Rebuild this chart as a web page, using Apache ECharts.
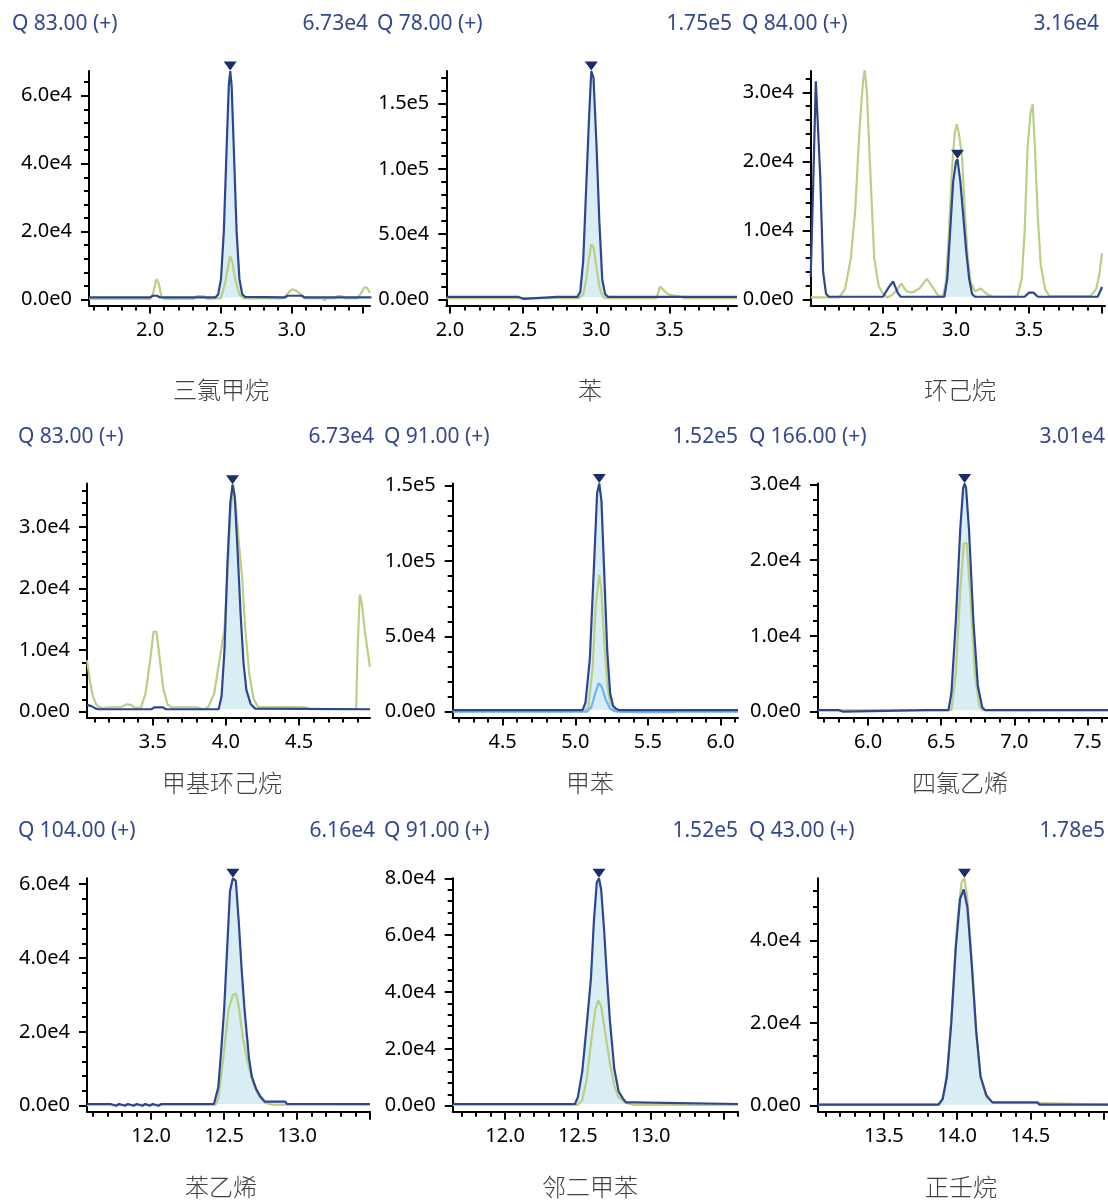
<!DOCTYPE html>
<html lang="zh">

<head>
    <meta charset="UTF-8">
    <title>色谱图</title>
    <style>
        * {
            padding: 0;
            margin: 0;
        }

        html,
        body {
            width: 100%;
            height: 100%;
            background: #fff;
        }

        #main {
            width: 1108px;
            height: 1200px;
        }
    </style>
</head>

<body>
    <div id="main"></div>
    <script src="https://cdn.jsdelivr.net/npm/echarts@6/dist/echarts.min.js"></script>
    <script>
        // 化合物名称、离子、最大响应
        var compounds = ['三氯甲烷', '苯', '环己烷', '甲基环己烷', '甲苯', '四氯乙烯', '苯乙烯', '邻二甲苯', '正壬烷'];
        var ions = ['Q 83.00 (+)', 'Q 78.00 (+)', 'Q 84.00 (+)', 'Q 83.00 (+)', 'Q 91.00 (+)', 'Q 166.00 (+)', 'Q 104.00 (+)', 'Q 91.00 (+)', 'Q 43.00 (+)'];
        var scales = ['6.73e4', '1.75e5', '3.16e4', '6.73e4', '1.52e5', '3.01e4', '6.16e4', '1.52e5', '1.78e5'];

        // 坐标轴范围和刻度
        var xMin = [1.57, 1.975, 2.005, 3.05, 4.156, 5.658, 11.56, 11.64, 13.05];
        var xMax = [3.55, 3.96, 4.02, 4.985, 6.12, 7.64, 13.5, 13.6, 15.03];
        var yMax = [67300, 175000, 33100, 37100, 151500, 30100, 61600, 80000, 55000];
        var yTicks = [
            [0, 20000, 40000, 60000],
            [0, 50000, 100000, 150000],
            [0, 10000, 20000, 30000],
            [0, 10000, 20000, 30000],
            [0, 50000, 100000, 150000],
            [0, 10000, 20000, 30000],
            [0, 20000, 40000, 60000],
            [0, 20000, 40000, 60000, 80000],
            [0, 20000, 40000]
        ];
        var yMinorStep = [4000, 10000, 2000, 2000, 10000, 2000, 4000, 4000, 4000];
        var xLabels = [
            [2.0, 2.5, 3.0],
            [2.0, 2.5, 3.0, 3.5],
            [2.5, 3.0, 3.5],
            [3.5, 4.0, 4.5],
            [4.5, 5.0, 5.5, 6.0],
            [6.0, 6.5, 7.0, 7.5],
            [12.0, 12.5, 13.0],
            [12.0, 12.5, 13.0],
            [13.5, 14.0, 14.5]
        ];

        // 峰顶标记和积分区间
        var peakRt = [2.565, 2.965, 3.01, 4.045, 5.165, 6.66, 12.56, 12.645, 14.05];
        var peakTop = [67300, 175000, 20300, 36900, 151500, 30100, 61600, 80000, 55000];
        var fillFrom = [2.46, 2.87, 2.92, 3.95, 5.05, 6.55, 12.43, 12.48, 13.87];
        var fillTo = [2.67, 3.08, 3.13, 4.20, 5.30, 6.80, 12.93, 12.89, 14.25];
        var fillBase = [600, 2000, 400, 400, 1100, 200, 460, 600, 250];

        // 三氯甲烷
        var blue1 = [[1.57, 600], [2.00, 600], [2.02, 1100], [2.05, 1100], [2.07, 600], [2.46, 600], [2.48, 1500], [2.50, 6000], [2.52, 20000], [2.54, 45000], [2.555, 63000], [2.565, 67300], [2.575, 63000], [2.59, 45000], [2.61, 20000], [2.63, 6000], [2.65, 1500], [2.67, 800], [2.95, 600], [2.97, 1100], [3.07, 1100], [3.09, 600], [3.56, 600]];
        var green1 = [[1.57, 200], [1.82, 200], [1.83, -300], [1.84, 200], [2.00, 200], [2.02, 1500], [2.045, 6000], [2.06, 5000], [2.08, 1000], [2.10, 200], [2.31, 200], [2.33, 1000], [2.38, 1000], [2.40, 200], [2.50, 400], [2.53, 5000], [2.555, 11000], [2.565, 12800], [2.58, 11000], [2.60, 6000], [2.63, 1500], [2.66, 300], [2.94, 300], [2.97, 1800], [3.00, 3000], [3.03, 2600], [3.07, 1200], [3.09, 300], [3.22, 300], [3.23, -300], [3.24, 300], [3.30, 300], [3.32, 1000], [3.35, 1000], [3.37, 300], [3.46, 300], [3.49, 2000], [3.51, 3600], [3.53, 3400], [3.55, 2000]];

        // 苯
        var blue2 = [[1.975, 2000], [2.00, 2000], [2.01, 500], [2.02, 2000], [2.26, 2000], [2.27, 500], [2.28, 2000], [2.47, 2000], [2.48, 500], [2.50, 500], [2.51, 2000], [2.73, 2000], [2.74, 500], [2.75, 2000], [2.87, 2000], [2.89, 6000], [2.91, 30000], [2.93, 85000], [2.95, 140000], [2.965, 175000], [2.98, 170000], [3.00, 120000], [3.02, 60000], [3.04, 15000], [3.06, 4000], [3.08, 2000], [3.96, 2000]];
        var green2 = [[1.975, 1000], [2.88, 1000], [2.91, 4000], [2.93, 15000], [2.95, 32000], [2.965, 42000], [2.98, 40000], [3.00, 25000], [3.02, 10000], [3.04, 3000], [3.06, 1000], [3.41, 1000], [3.435, 10000], [3.46, 7000], [3.49, 4000], [3.53, 3000], [3.58, 2000], [3.60, 1000], [3.96, 1000]];

        // 环己烷
        var blue3 = [[2.005, 3300], [2.02, 15000], [2.04, 31600], [2.05, 31600], [2.07, 18000], [2.09, 4000], [2.11, 800], [2.13, 400], [2.50, 400], [2.54, 1800], [2.57, 2600], [2.60, 1000], [2.62, 400], [2.92, 400], [2.94, 3000], [2.96, 10000], [2.98, 17000], [3.00, 20000], [3.01, 20300], [3.03, 17000], [3.05, 12000], [3.07, 7000], [3.09, 3000], [3.11, 800], [3.13, 400], [3.47, 400], [3.50, 1000], [3.53, 1000], [3.56, 400], [3.97, 400], [4.00, 1800]];
        var green3 = [[2.005, 300], [2.20, 300], [2.24, 1500], [2.28, 6000], [2.31, 13000], [2.34, 25000], [2.365, 32000], [2.375, 33200], [2.39, 30000], [2.41, 20000], [2.44, 6000], [2.47, 2000], [2.50, 800], [2.53, 300], [2.56, 600], [2.60, 1500], [2.625, 2300], [2.66, 1200], [2.70, 1000], [2.75, 1600], [2.80, 3000], [2.84, 1800], [2.88, 500], [2.91, 400], [2.93, 2500], [2.95, 9000], [2.97, 18000], [2.99, 24000], [3.005, 25400], [3.02, 24000], [3.04, 21000], [3.06, 13000], [3.08, 6000], [3.10, 2500], [3.13, 1200], [3.17, 1600], [3.21, 800], [3.25, 400], [3.42, 400], [3.45, 3000], [3.47, 10000], [3.49, 22000], [3.51, 27000], [3.525, 28300], [3.54, 22000], [3.56, 12000], [3.58, 5000], [3.61, 1500], [3.64, 500], [3.92, 500], [3.96, 1500], [3.98, 3500], [4.00, 6700]];

        // 甲基环己烷
        var blue4 = [[3.05, 1100], [3.08, 900], [3.11, 500], [3.13, 400], [3.49, 400], [3.51, 700], [3.57, 700], [3.59, 400], [3.95, 400], [3.97, 2500], [3.99, 10000], [4.01, 24000], [4.03, 34000], [4.045, 36900], [4.06, 35000], [4.08, 26000], [4.10, 16000], [4.12, 8000], [4.14, 3500], [4.17, 1200], [4.20, 500], [4.985, 400]];
        var green4 = [[3.05, 8400], [3.07, 5000], [3.09, 2500], [3.11, 1300], [3.13, 800], [3.16, 600], [3.20, 700], [3.28, 700], [3.32, 1200], [3.35, 1100], [3.38, 600], [3.42, 700], [3.45, 3000], [3.48, 8000], [3.505, 13000], [3.525, 13000], [3.55, 8000], [3.57, 4000], [3.60, 1200], [3.63, 700], [3.80, 700], [3.85, 400], [3.88, 800], [3.92, 3000], [3.96, 9000], [3.99, 13500], [4.01, 22000], [4.03, 32000], [4.05, 37000], [4.07, 33000], [4.09, 27000], [4.11, 22000], [4.13, 14000], [4.16, 6000], [4.19, 2000], [4.22, 800], [4.55, 700], [4.57, 400], [4.89, 400], [4.90, 10000], [4.915, 19000], [4.93, 17500], [4.95, 13000], [4.985, 7300]];

        // 甲苯
        var blue5 = [[4.156, 1100], [4.38, 1100], [4.39, 0], [4.40, 1100], [4.49, 1100], [4.50, 0], [4.52, 1100], [4.86, 1100], [4.87, 0], [4.88, 1100], [5.05, 1100], [5.07, 6000], [5.10, 35000], [5.13, 100000], [5.15, 145000], [5.165, 151500], [5.18, 140000], [5.20, 90000], [5.22, 40000], [5.24, 12000], [5.26, 4000], [5.28, 2000], [5.30, 1100], [6.12, 1100]];
        var green5 = [[4.156, 300], [5.06, 300], [5.09, 3000], [5.12, 30000], [5.14, 70000], [5.165, 91000], [5.18, 80000], [5.20, 45000], [5.22, 18000], [5.24, 6000], [5.27, 1500], [5.29, 300], [6.12, 300]];
        var light5 = [[4.156, 0], [5.08, 0], [5.11, 3000], [5.14, 13000], [5.16, 18800], [5.18, 17000], [5.21, 8000], [5.24, 2000], [5.27, 300], [5.30, 0], [5.43, -300], [5.67, -300], [5.70, 0], [6.12, 0]];

        // 四氯乙烯
        var blue6 = [[5.658, 200], [5.80, 200], [5.81, 0], [5.83, 0], [5.84, 200], [6.40, 200], [6.41, 0], [6.42, 200], [6.55, 200], [6.57, 2500], [6.60, 12000], [6.63, 24000], [6.65, 29500], [6.66, 30100], [6.67, 29500], [6.69, 24000], [6.72, 12000], [6.75, 3500], [6.78, 600], [6.80, 200], [7.26, 200], [7.27, 0], [7.28, 200], [7.57, 200], [7.58, 0], [7.59, 200], [7.64, 200]];
        var green6 = [[5.658, 200], [6.57, 200], [6.60, 5000], [6.63, 16000], [6.655, 22200], [6.675, 22200], [6.70, 15000], [6.73, 5000], [6.76, 800], [6.78, 200], [7.64, 200]];

        // 苯乙烯
        var blue7 = [[11.56, 460], [11.70, 460], [11.71, 0], [11.72, 460], [11.76, 0], [11.78, 460], [11.82, 0], [11.84, 460], [11.88, 0], [11.90, 460], [11.94, 0], [11.96, 460], [11.99, 0], [12.01, 460], [12.05, 0], [12.07, 460], [12.20, 460], [12.21, 0], [12.23, 460], [12.33, 460], [12.34, 0], [12.36, 460], [12.43, 460], [12.46, 5000], [12.48, 15000], [12.50, 26000], [12.52, 42000], [12.54, 58000], [12.56, 61600], [12.58, 61000], [12.60, 50000], [12.62, 37000], [12.64, 26000], [12.67, 13000], [12.69, 7850], [12.72, 4500], [12.75, 2400], [12.78, 1100], [12.92, 1100], [12.93, 460], [13.5, 460]];
        var green7 = [[11.56, 200], [12.44, 200], [12.46, 2000], [12.48, 8000], [12.50, 15000], [12.53, 26000], [12.56, 30000], [12.58, 30400], [12.60, 27000], [12.63, 18000], [12.66, 12000], [12.70, 6000], [12.74, 2500], [12.78, 800], [12.83, 300], [13.5, 200]];

        // 邻二甲苯
        var blue8 = [[11.64, 600], [12.48, 600], [12.50, 3000], [12.53, 12000], [12.56, 28000], [12.59, 45000], [12.61, 65000], [12.63, 78500], [12.645, 80000], [12.66, 76000], [12.68, 62000], [12.70, 45000], [12.72, 30000], [12.75, 13000], [12.78, 5000], [12.81, 2500], [12.83, 1200], [12.88, 1200], [12.89, 600], [13.6, 600]];
        var green8 = [[11.64, 300], [12.50, 300], [12.53, 2000], [12.56, 9000], [12.59, 22000], [12.62, 34000], [12.64, 37000], [12.66, 35000], [12.69, 25000], [12.72, 15000], [12.75, 7000], [12.78, 3000], [12.82, 1200], [12.86, 500], [12.88, 300], [13.6, 300]];

        // 正壬烷
        var blue9 = [[13.05, 250], [13.87, 250], [13.90, 1500], [13.93, 7000], [13.96, 20000], [13.99, 38000], [14.02, 50000], [14.045, 52300], [14.07, 48000], [14.10, 34000], [14.13, 18000], [14.16, 7000], [14.20, 2500], [14.24, 800], [14.55, 800], [14.56, 250], [15.03, 250]];
        var green9 = [[13.05, 250], [13.88, 250], [13.91, 2500], [13.94, 11000], [13.97, 26000], [14.00, 44000], [14.03, 54000], [14.05, 55000], [14.07, 50000], [14.10, 35000], [14.13, 18000], [14.16, 7000], [14.20, 2000], [14.25, 600], [14.55, 600], [14.56, 250], [15.03, 250]];

        var blue = [blue1, blue2, blue3, blue4, blue5, blue6, blue7, blue8, blue9];
        var green = [green1, green2, green3, green4, green5, green6, green7, green8, green9];

        // 布局
        var gridLeft = [89, 446.3, 810.7, 87, 452.7, 818, 87, 452.7, 818];
        var gridRight = [370, 737, 1105, 370, 738, 1108, 370, 738, 1108];
        var rowTop = [71, 483.5, 878.3];
        var rowZero = [299.5, 711.7, 1105.7];
        var rowBottom = [305.5, 717.5, 1111.7];
        var ionLeft = [12, 377, 742, 18, 384, 749, 18, 384, 749];
        var scaleRight = [368, 732, 1099, 374, 738, 1105, 375, 738, 1105];
        var headY = [24.5, 437, 831];
        var nameX = [221, 590, 960, 222, 590, 960, 221, 590, 961];
        var nameY = [390, 783, 1187];

        var latin = '"Noto Sans", "Noto Sans CJK SC", sans-serif';
        var BLUE = '#2e4592', GREEN = '#b8cf84', FILL = '#d9edf4', LIGHT = '#6cb4f5', MARK = '#1a2c6b';

        function steps(min, max, step) {
            var out = [];
            for (var k = Math.ceil(min / step - 1e-9); k * step <= max + 1e-9; k++) {
                out.push(Math.round(k * step * 1000) / 1000);
            }
            return out;
        }

        function sci(v) {
            if (v === 0) return '0.0e0';
            var e = Math.floor(Math.log10(v) + 1e-9);
            return (v / Math.pow(10, e)).toFixed(1) + 'e' + e;
        }

        var grids = [], xAxes = [], yAxes = [], series = [], graphics = [];

        for (var i = 0; i < 9; i++) {
            var r = Math.floor(i / 3);
            var yMin = -yMax[i] * (rowBottom[r] - rowZero[r]) / (rowZero[r] - rowTop[r]);

            grids.push({
                left: gridLeft[i],
                top: rowTop[r],
                width: gridRight[i] - gridLeft[i],
                height: rowBottom[r] - rowTop[r],
                outerBoundsMode: 'none'
            });

            // 主刻度轴
            xAxes.push({
                type: 'value', gridIndex: i, position: 'bottom', min: xMin[i], max: xMax[i],
                axisLine: { onZero: false, lineStyle: { color: '#000', width: 2 } },
                axisTick: { customValues: steps(xMin[i], xMax[i], 0.5), length: 8, lineStyle: { color: '#000', width: 2 } },
                axisLabel: {
                    customValues: xLabels[i], margin: 15, color: '#000', fontSize: 20, fontFamily: latin,
                    formatter: function (v) { return v.toFixed(1); }
                },
                splitLine: { show: false }
            });
            // 次刻度轴
            xAxes.push({
                type: 'value', gridIndex: i, position: 'bottom', min: xMin[i], max: xMax[i],
                axisLine: { show: false, onZero: false },
                axisTick: { customValues: steps(xMin[i], xMax[i], 0.1), length: 5, lineStyle: { color: '#000', width: 2 } },
                axisLabel: { show: false },
                splitLine: { show: false }
            });
            yAxes.push({
                type: 'value', gridIndex: i, position: 'left', min: yMin, max: yMax[i],
                axisLine: { show: true, onZero: false, lineStyle: { color: '#000', width: 2 } },
                axisTick: { show: true, customValues: yTicks[i], length: 8, lineStyle: { color: '#000', width: 2 } },
                axisLabel: {
                    customValues: yTicks[i], margin: 17, color: '#000', fontSize: 20, fontFamily: latin,
                    formatter: sci
                },
                splitLine: { show: false }
            });
            yAxes.push({
                type: 'value', gridIndex: i, position: 'left', min: yMin, max: yMax[i],
                axisLine: { show: false, onZero: false },
                axisTick: { show: true, customValues: steps(0, yMax[i], yMinorStep[i]), length: 5, lineStyle: { color: '#000', width: 2 } },
                axisLabel: { show: false },
                splitLine: { show: false }
            });

            var from = fillFrom[i], to = fillTo[i];
            series.push({
                type: 'line', xAxisIndex: i * 2, yAxisIndex: i * 2, z: 1,
                showSymbol: false, silent: true,
                lineStyle: { width: 0 },
                areaStyle: { color: FILL, opacity: 1, origin: fillBase[i] },
                data: blue[i].filter(function (p) { return p[0] >= from && p[0] <= to; })
            });
            series.push({
                type: 'line', xAxisIndex: i * 2, yAxisIndex: i * 2, z: 2,
                showSymbol: false, silent: true,
                lineStyle: { color: GREEN, width: 2.2 },
                data: green[i]
            });
            if (i === 4) {
                series.push({
                    type: 'line', xAxisIndex: i * 2, yAxisIndex: i * 2, z: 3,
                    showSymbol: false, silent: true,
                    lineStyle: { color: LIGHT, width: 2.2 },
                    data: light5
                });
            }
            series.push({
                type: 'line', xAxisIndex: i * 2, yAxisIndex: i * 2, z: 4,
                showSymbol: false, silent: true,
                lineStyle: { color: BLUE, width: 2.2 },
                data: blue[i],
                markPoint: {
                    symbol: 'triangle',
                    symbolSize: [13, 9],
                    symbolRotate: 180,
                    symbolOffset: [0, -5],
                    itemStyle: { color: MARK },
                    label: { show: false },
                    silent: true,
                    data: [{ coord: [peakRt[i], peakTop[i]] }]
                }
            });

            // 离子和响应值
            graphics.push({
                type: 'text', x: ionLeft[i], y: headY[r],
                style: { text: ions[i], fill: '#34488f', fontSize: 21, fontFamily: latin, align: 'left', verticalAlign: 'middle' }
            });
            graphics.push({
                type: 'text', x: scaleRight[i], y: headY[r],
                style: { text: scales[i], fill: '#34488f', fontSize: 21, fontFamily: latin, align: 'right', verticalAlign: 'middle' }
            });
            // 化合物名称
            graphics.push({
                type: 'text', x: nameX[i], y: nameY[r],
                style: { text: compounds[i], fill: '#404040', fontSize: 24, fontWeight: 300, fontFamily: '"Noto Sans CJK SC", sans-serif', align: 'center', verticalAlign: 'middle' }
            });
        }

        var myChart = echarts.init(document.getElementById('main'));
        myChart.setOption({
            backgroundColor: '#fff',
            animation: false,
            grid: grids,
            xAxis: xAxes,
            yAxis: yAxes,
            series: series,
            graphic: graphics
        });
    </script>
</body>

</html>
